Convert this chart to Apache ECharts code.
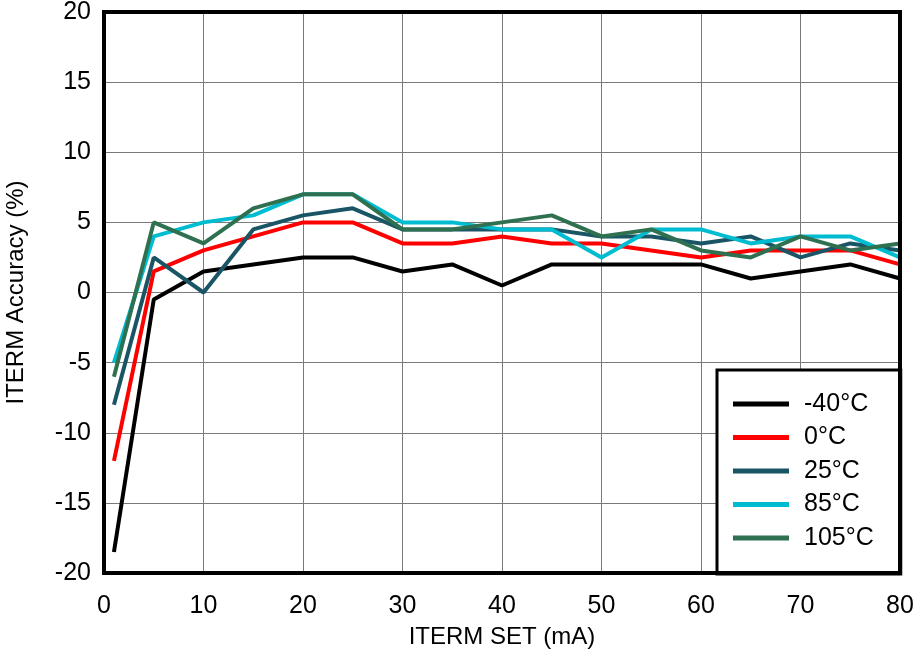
<!DOCTYPE html>
<html><head><meta charset="utf-8">
<script src="https://cdn.jsdelivr.net/npm/echarts@6/dist/echarts.min.js"></script>
<style>html,body{margin:0;padding:0;background:#fff}#c{width:915px;height:658px}</style>
</head><body><div id="c"></div>
<script>
const xValues = [1, 5, 10, 15, 20, 25, 30, 35, 40, 45, 50, 55, 60, 65, 70, 75, 80];
const seriesNames = ['-40°C', '0°C', '25°C', '85°C', '105°C'];
const seriesColors = ['#000000', '#FF0000', '#1A5566', '#00BCD0', '#2E7050'];
const tM40 = [-18.5, -0.5, 1.5, 2, 2.5, 2.5, 1.5, 2, 0.5, 2, 2, 2, 2, 1, 1.5, 2, 1];
const t0 = [-12, 1.5, 3, 4, 5, 5, 3.5, 3.5, 4, 3.5, 3.5, 3, 2.5, 3, 3, 3, 2];
const t25 = [-8, 2.5, 0, 4.5, 5.5, 6, 4.5, 4.5, 4.5, 4.5, 4, 4, 3.5, 4, 2.5, 3.5, 3];
const t85 = [-5, 4, 5, 5.5, 7, 7, 5, 5, 4.5, 4.5, 2.5, 4.5, 4.5, 3.5, 4, 4, 2.5];
const t105 = [-6, 5, 3.5, 6, 7, 7, 4.5, 4.5, 5, 5.5, 4, 4.5, 3, 2.5, 4, 3, 3.5];
const allData = [tM40, t0, t25, t85, t105];

const chart = echarts.init(document.getElementById('c'), null, {renderer: 'canvas'});
const font = 'Liberation Sans, Arial, sans-serif';
chart.setOption({
  animation: false,
  backgroundColor: '#fff',
  textStyle: {fontFamily: font},
  grid: {left: 104, right: 15, top: 12, bottom: 85, show: true, borderColor: '#000', borderWidth: 4, z: 10,
         outerBoundsMode: 'none', containLabel: false},
  xAxis: {
    type: 'value', min: 0, max: 80, interval: 10,
    name: 'ITERM SET (mA)', nameLocation: 'middle', nameGap: 52,
    nameTextStyle: {fontSize: 24, color: '#000', fontFamily: font},
    axisLine: {show: false}, axisTick: {show: false},
    axisLabel: {fontSize: 25, color: '#000', margin: 21, fontFamily: font},
    splitLine: {show: true, lineStyle: {color: '#7a7a7a', width: 1}}
  },
  yAxis: {
    type: 'value', min: -20, max: 20, interval: 5,
    name: 'ITERM Accuracy (%)', nameLocation: 'middle', nameGap: 76,
    nameTextStyle: {fontSize: 24, color: '#000', fontFamily: font},
    axisLine: {show: false}, axisTick: {show: false},
    axisLabel: {fontSize: 25, color: '#000', margin: 13, fontFamily: font},
    splitLine: {show: true, lineStyle: {color: '#7a7a7a', width: 1}}
  },
  legend: {
    orient: 'vertical', left: 717, top: 370,
    padding: [21, 27, 23, 16],
    backgroundColor: '#fff', borderColor: '#000', borderWidth: 3,
    itemWidth: 56, itemHeight: 5, itemGap: 7.5, icon: 'rect',
    textStyle: {fontSize: 25, color: '#000', fontFamily: font, padding: [0, 0, 0, 10], lineHeight: 26},
    data: seriesNames
  },
  series: seriesNames.map((n, i) => ({
    name: n, type: 'line', showSymbol: false, symbol: 'none',
    lineStyle: {width: 4, color: seriesColors[i]},
    itemStyle: {color: seriesColors[i]},
    z: 3 + i,
    data: xValues.map((x, j) => [x, allData[i][j]])
  }))
});
</script></body></html>
